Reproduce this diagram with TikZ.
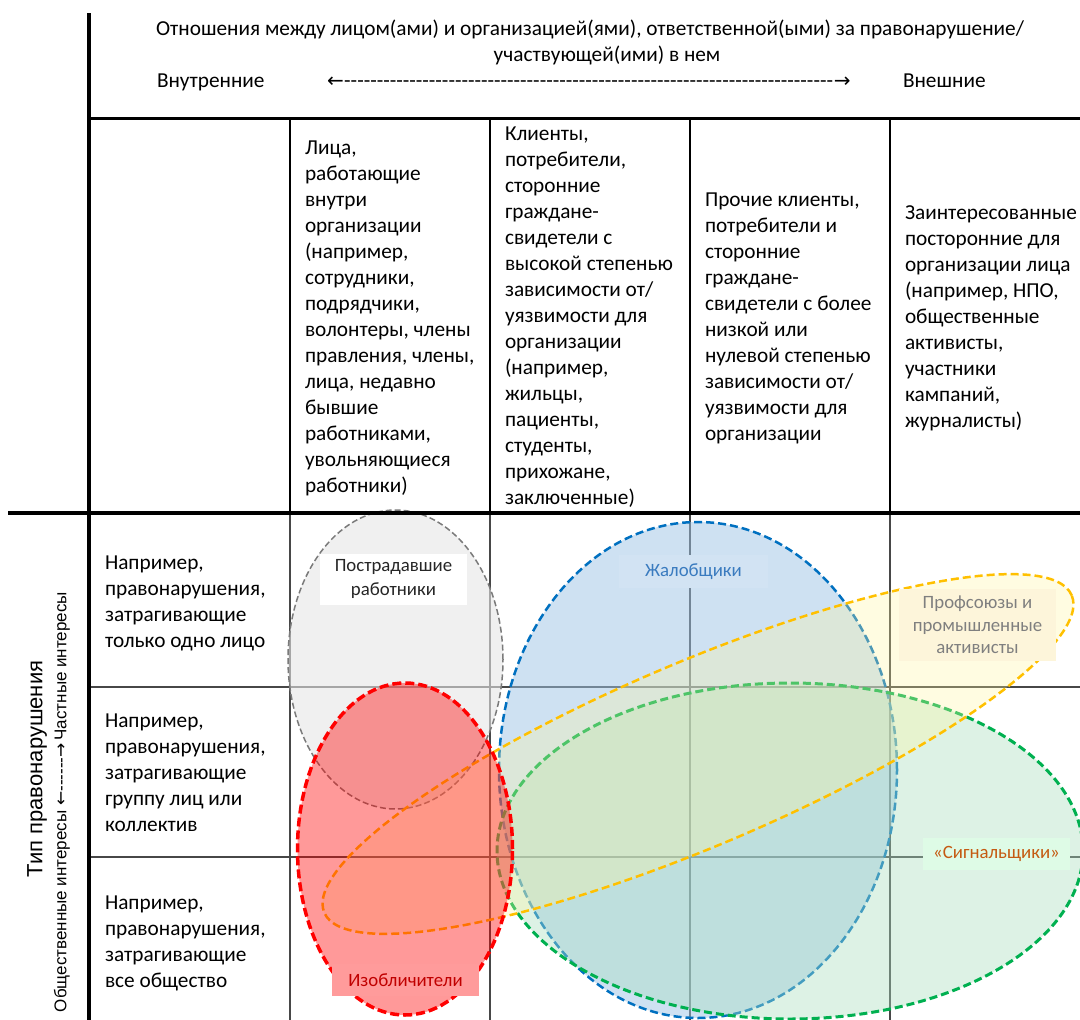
\documentclass[tikz,border=0pt]{standalone}
\usepackage{fontspec}
\setmainfont{Carlito}
\newfontfamily\arialf{Liberation Sans}
\newfontfamily\arrowf{DejaVu Sans}
\usetikzlibrary{arrows.meta}
\definecolor{ellgray}{HTML}{E6E6E6}
\definecolor{ellgrayline}{HTML}{7A7A7A}
\definecolor{ellblue}{HTML}{9DC3E6}
\definecolor{ellblueline}{HTML}{0070C0}
\definecolor{ellgreen}{HTML}{A9DFBF}
\definecolor{ellgreenline}{HTML}{00B050}
\definecolor{ellyellow}{HTML}{FFF59D}
\definecolor{ellyellowline}{HTML}{FFC000}
\definecolor{ellredline}{HTML}{FF0000}
\definecolor{lblblue}{HTML}{D2E3F3}
\definecolor{lblyellow}{HTML}{FDF5DA}
\definecolor{lblgreen}{HTML}{DEFBE6}
\definecolor{lblred}{HTML}{FF9B9B}
\definecolor{txtblue}{HTML}{3A7BBF}
\definecolor{txtgray}{HTML}{7F7F7F}
\definecolor{txtorange}{HTML}{C55A11}
\definecolor{txtred}{HTML}{C00000}
\begin{document}
\begin{tikzpicture}[x=1pt,y=-1pt,
  every node/.style={inner sep=0pt, outer sep=0pt},
  maintext/.style={font=\fontsize{21.3}{26}\selectfont},
  cell/.style={maintext, anchor=west, align=left},
  thickrule/.style={line width=4pt, line cap=rect},
  colrule/.style={line width=2pt},
  gridrule/.style={line width=1.6pt, draw=black!72},
  ellbase/.style={line width=2.5pt, dash pattern=on 8pt off 4pt, fill opacity=0.45, draw opacity=1},
  lbl/.style={font=\fontsize{18.8}{23.5}\selectfont, align=center, minimum width=147pt},
]
\useasboundingbox (0,0) rectangle (1080,1020);

% ---- lower grid (under the ellipses)
\draw[gridrule] (89,687) -- (1080,687);
\draw[gridrule] (89,857) -- (1080,857);
\draw[gridrule] (290,513) -- (290,1020);
\draw[gridrule] (490,513) -- (490,1020);
\draw[gridrule] (690,513) -- (690,1020);
\draw[gridrule] (890,513) -- (890,1020);

% ---- ellipses
\draw[ellbase, fill=ellgray, draw=ellgrayline, line width=1.5pt, dash pattern=on 6pt off 3pt, fill opacity=0.6]
  (395.5,659.5) ellipse [x radius=107.5pt, y radius=149.5pt];
\draw[ellbase, fill=ellblue, draw=ellblueline, fill opacity=0.5]
  (698,770) ellipse [x radius=199pt, y radius=248pt];
\draw[ellbase, fill=ellgreen, draw=ellgreenline, line width=3pt, fill opacity=0.4]
  (790,851) ellipse [x radius=293pt, y radius=168pt];
\draw[ellbase, fill=ellyellow, draw=ellyellowline, fill opacity=0.3, rotate around={23:(698,754)}]
  (698,754) ellipse [x radius=406pt, y radius=92pt];
\draw[ellbase, fill=red, draw=ellredline, line width=3.5pt, dash pattern=on 9pt off 4pt, fill opacity=0.4]
  (405,849) ellipse [x radius=107.5pt, y radius=166pt];

% ---- frame rules
\draw[thickrule] (89,15) -- (89,1020);
\draw[line width=3pt] (89,118) -- (1080,118);
\draw[line width=4pt] (8,513) -- (1080,513);
\draw[colrule] (290,118) -- (290,513);
\draw[colrule] (490,118) -- (490,513);
\draw[colrule] (690,118) -- (690,513);
\draw[colrule] (890,118) -- (890,513);

% ---- header texts
\node[maintext, anchor=base] (title1) at (590,35) {Отношения между лицом(ами) и организацией(ями), ответственной(ыми) за правонарушение/};
\node[maintext, anchor=base] (title2) at (607,61) {участвующей(ими) в нем};
\node[maintext, anchor=base west] (inner) at (157,87) {Внутренние};
\node[maintext, anchor=base west] (outer) at (903,87) {Внешние};
\node[maintext, anchor=base west] (hdrarrow) at (327,87) {{\arrowf\fontsize{20}{22}\selectfont ←}\hbox to 490pt{\cleaders\hbox{-}\hfill}{\arrowf\fontsize{20}{22}\selectfont →}};

% ---- column headers
\node[cell] (col1) at (305,318) {Лица,\\работающие\\внутри\\организации\\(например,\\сотрудники,\\подрядчики,\\волонтеры, члены\\правления, члены,\\лица, недавно\\бывшие\\работниками,\\увольняющиеся\\работники)};
\node[cell] (col2) at (505,317) {Клиенты,\\потребители,\\сторонние\\граждане-\\свидетели с\\высокой степенью\\зависимости от/\\уязвимости для\\организации\\(например,\\жильцы,\\пациенты,\\студенты,\\прихожане,\\заключенные)};
\node[cell] (col3) at (705,318) {Прочие клиенты,\\потребители и\\сторонние\\граждане-\\свидетели с более\\низкой или\\нулевой степенью\\зависимости от/\\уязвимости для\\организации};
\node[cell] (col4) at (905,318) {Заинтересованные\\посторонние для\\организации лица\\(например, НПО,\\общественные\\активисты,\\участники\\кампаний,\\журналисты)};

% ---- row headers
\node[cell] (row1) at (105,603) {Например,\\правонарушения,\\затрагивающие\\только одно лицо};
\node[cell] (row2) at (105,773) {Например,\\правонарушения,\\затрагивающие\\группу лиц или\\коллектив};
\node[cell] (row3) at (105,943) {Например,\\правонарушения,\\затрагивающие\\все общество};

% ---- vertical axis
\node[rotate=90, font=\arialf\fontsize{22}{24}\selectfont] (axis1) at (37,769) {Тип правонарушения};
\node[rotate=90, font=\arialf\fontsize{17}{20}\selectfont] (axis2) at (62,802) {Общественные интересы {\arrowf\fontsize{17}{18}\selectfont ←}\hbox to 34pt{\cleaders\hbox{-}\hfill}{\arrowf\fontsize{17}{18}\selectfont →}\,Частные интересы};

% ---- ellipse labels
\node[lbl, fill=white, text=black!85, minimum height=51pt] (lblvictim) at (393.5,579) {Пострадавшие\\работники};
\node[lbl, fill=lblblue, text=txtblue, minimum width=149pt, minimum height=33pt] (lblcompl) at (693.5,571.5) {Жалобщики};
\node[lbl, fill=lblyellow, text=txtgray, minimum width=157pt, minimum height=72pt, font=\fontsize{18.8}{22.5}\selectfont] (lblunion) at (977.5,625) {Профсоюзы и\\промышленные\\активисты};
\node[lbl, fill=lblgreen, text=txtorange, minimum height=32pt] (lblsignal) at (996.5,854) {«Сигнальщики»};
\node[lbl, fill=lblred, text=txtred, minimum height=32pt] (lblwhistle) at (405.5,980) {Изобличители};
\end{tikzpicture}
\end{document}
